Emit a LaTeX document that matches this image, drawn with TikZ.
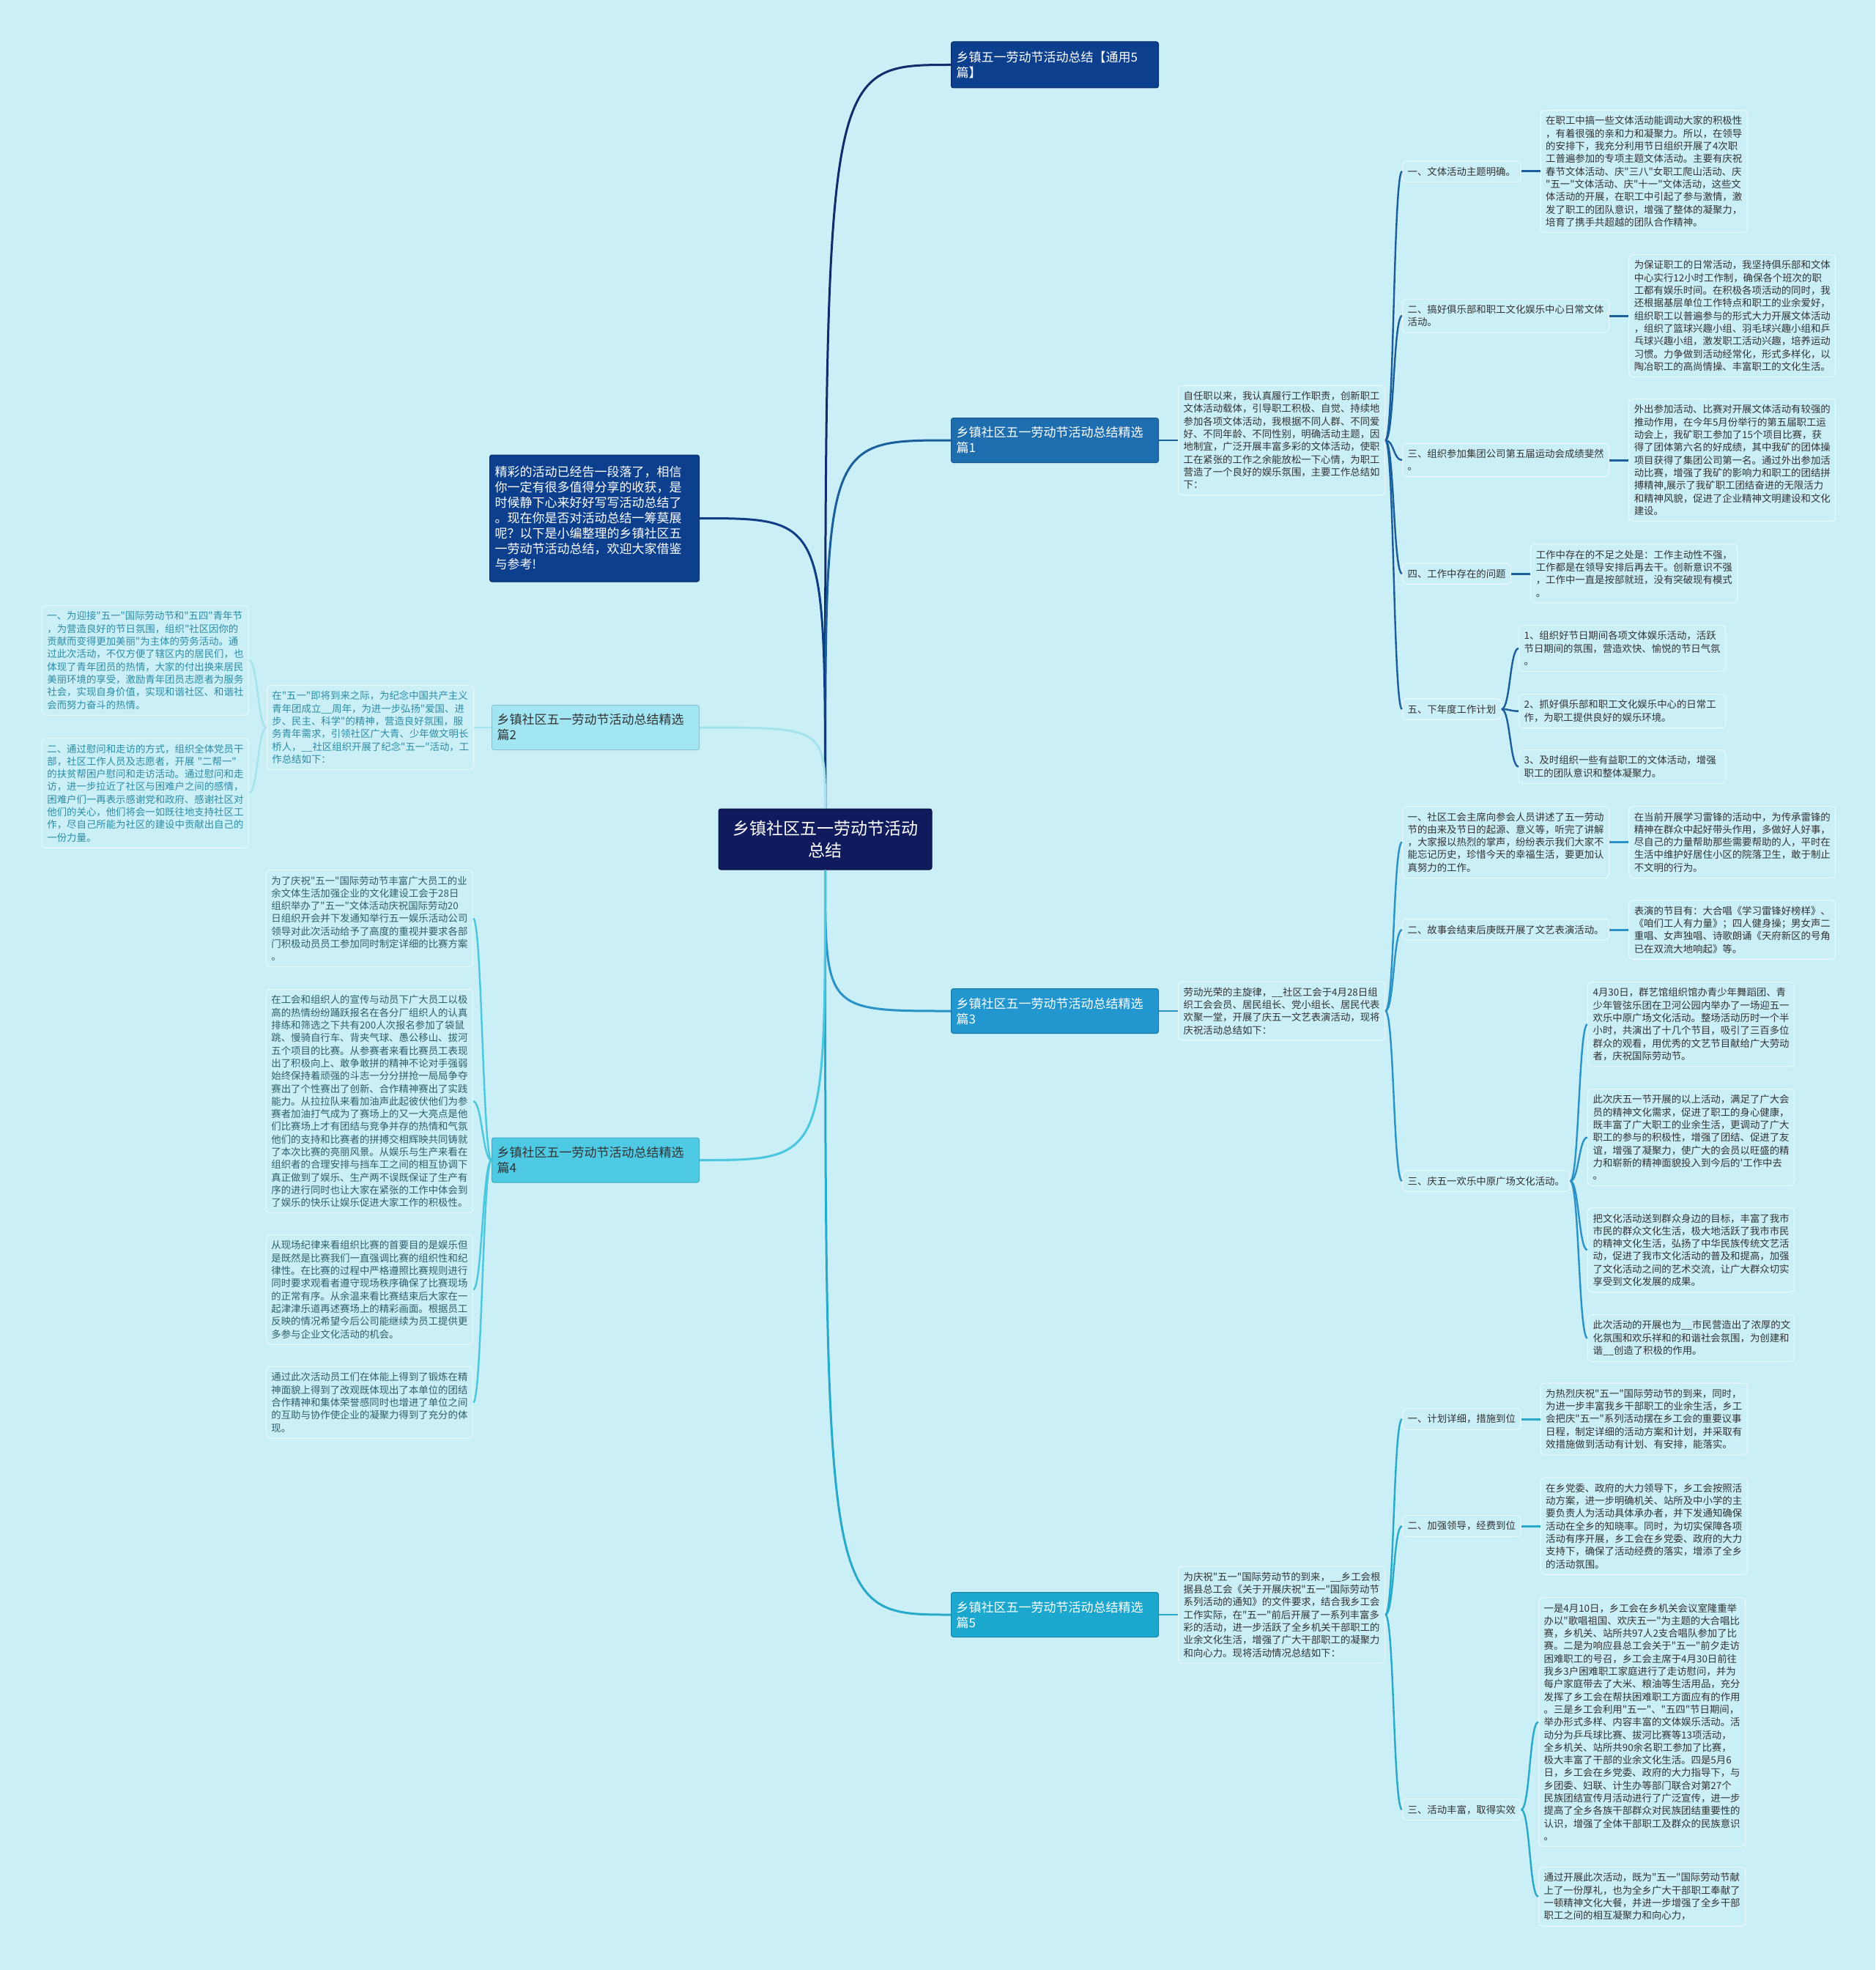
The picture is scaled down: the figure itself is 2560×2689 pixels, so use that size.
\documentclass[tikz,border=0pt]{standalone}
\usepackage{fontspec}
\newfontfamily\cjk{Noto Sans CJK SC}
\usetikzlibrary{positioning, calc}

\definecolor{bgcol}{HTML}{CAEFF7}
\definecolor{navy}{HTML}{101B5E}
\definecolor{deepblue}{HTML}{0C3F8D}
\definecolor{blueA}{HTML}{1E6EAF}
\definecolor{blueB}{HTML}{2196CF}
\definecolor{blueC}{HTML}{1CA7CF}
\definecolor{cyanA}{HTML}{A2E6F3}
\definecolor{cyanB}{HTML}{4FCAE4}
\definecolor{lineTop}{HTML}{0F2C6B}
\definecolor{lineIntro}{HTML}{103E86}
\definecolor{lineA}{HTML}{1A5E9B}
\definecolor{lineB}{HTML}{2A92C6}
\definecolor{lineC}{HTML}{27A9C9}
\definecolor{lineD}{HTML}{A2E3EE}
\definecolor{lineE}{HTML}{4AC7DF}
\definecolor{leafedge}{HTML}{E8F9FD}
\definecolor{leaftext}{HTML}{333333}
\definecolor{tealtext}{HTML}{2C8CA5}
\definecolor{slatetext}{HTML}{2E5F6A}

\tikzstyle{root} = [rectangle, rounded corners=3pt, fill=navy, draw=navy!70!black, line width=1pt, text=white, align=center, minimum width=291pt, minimum height=83pt, inner sep=4pt, font={\cjk\fontsize{23}{30}\selectfont}]
\tikzstyle{branch} = [rectangle, rounded corners=3pt, line width=1pt, text width=269pt, align=left, inner xsep=7pt, inner ysep=4pt, minimum height=61pt, font={\cjk\fontsize{17}{21}\selectfont}]
\tikzstyle{leaf} = [rectangle, rounded corners=5pt, fill=bgcol, draw=leafedge, line width=1.2pt, text=leaftext, align=left, inner xsep=7pt, inner ysep=8pt, font={\cjk\fontsize{13.4}{17.3}\selectfont}]
\tikzstyle{para} = [leaf, text width=268pt]
\tikzstyle{trunk} = [line width=3pt]
\tikzstyle{twig} = [line width=2.4pt]

\begin{document}
\begin{tikzpicture}[x=1pt, y=-1pt]

        \fill[bgcol] (0,0) rectangle (2560,2689);

        % Centre
        \node (ctr) [root] at (1126.5,1145.5) {乡镇社区五一劳动节活动\\总结};

        % Main topics (Right)
        \node (top) [branch, fill=deepblue, draw=deepblue!70!black, text=white, minimum height=63pt, anchor=west] at (1298,88.5) {乡镇五一劳动节活动总结【通用5\\篇】};
        \node (b1) [branch, fill=blueA, draw=blueA!80!black, text=white, anchor=west] at (1298,601) {乡镇社区五一劳动节活动总结精选\\篇1};
        \node (b3) [branch, fill=blueB, draw=blueB!80!black, text=white, anchor=west] at (1298,1380) {乡镇社区五一劳动节活动总结精选\\篇3};
        \node (b5) [branch, fill=blueC, draw=blueC!80!black, text=white, anchor=west] at (1298,2204) {乡镇社区五一劳动节活动总结精选\\篇5};

        % Main topics (Left)
        \node (intro) [branch, fill=deepblue, draw=deepblue!70!black, text=white, text width=272pt, minimum height=173pt, anchor=east] at (955,707.5) {精彩的活动已经告一段落了，相信\\你一定有很多值得分享的收获，是\\时候静下心来好好写写活动总结了\\。现在你是否对活动总结一筹莫展\\呢？以下是小编整理的乡镇社区五\\一劳动节活动总结，欢迎大家借鉴\\与参考!};
        \node (b2) [branch, fill=cyanA, draw=cyanA!85!black, text=leaftext, anchor=east] at (955,993) {乡镇社区五一劳动节活动总结精选\\篇2};
        \node (b4) [branch, fill=cyanB, draw=cyanB!85!black, text=leaftext, anchor=east] at (955,1583.5) {乡镇社区五一劳动节活动总结精选\\篇4};

        % Part 1
        \node (p1) [para, right=26pt of b1] {自任职以来，我认真履行工作职责，创新职工\\文体活动载体，引导职工积极、自觉、持续地\\参加各项文体活动，我根据不同人群、不同爱\\好、不同年龄、不同性别，明确活动主题，因\\地制宜，广泛开展丰富多彩的文体活动，使职\\工在紧张的工作之余能放松一下心情，为职工\\营造了一个良好的娱乐氛围，主要工作总结如\\下：};
        \node (l11) [leaf, anchor=west] at (1914,234) {一、文体活动主题明确。};
        \node (l12) [leaf, anchor=west] at (1914,431) {二、搞好俱乐部和职工文化娱乐中心日常文体\\活动。};
        \node (l13) [leaf, anchor=west] at (1914,628) {三、组织参加集团公司第五届运动会成绩斐然\\。};
        \node (l14) [leaf, anchor=west] at (1914,783) {四、工作中存在的问题};
        \node (l15) [leaf, anchor=west] at (1914,968) {五、下年度工作计划};
        \node (d11) [para, right=26pt of l11] {在职工中搞一些文体活动能调动大家的积极性\\，有着很强的亲和力和凝聚力。所以，在领导\\的安排下，我充分利用节日组织开展了4次职\\工普遍参加的专项主题文体活动。主要有庆祝\\春节文体活动、庆"三八"女职工爬山活动、庆\\"五一"文体活动、庆"十一"文体活动，这些文\\体活动的开展，在职工中引起了参与激情，激\\发了职工的团队意识，增强了整体的凝聚力，\\培育了携手共超越的团队合作精神。};
        \node (d12) [para, right=26pt of l12] {为保证职工的日常活动，我坚持俱乐部和文体\\中心实行12小时工作制，确保各个班次的职\\工都有娱乐时间。在积极各项活动的同时，我\\还根据基层单位工作特点和职工的业余爱好，\\组织职工以普遍参与的形式大力开展文体活动\\，组织了篮球兴趣小组、羽毛球兴趣小组和乒\\乓球兴趣小组，激发职工活动兴趣，培养运动\\习惯。力争做到活动经常化，形式多样化，以\\陶冶职工的高尚情操、丰富职工的文化生活。};
        \node (d13) [para, right=26pt of l13] {外出参加活动、比赛对开展文体活动有较强的\\推动作用，在今年5月份举行的第五届职工运\\动会上，我矿职工参加了15个项目比赛，获\\得了团体第六名的好成绩，其中我矿的团体操\\项目获得了集团公司第一名。通过外出参加活\\动比赛，增强了我矿的影响力和职工的团结拼\\搏精神,展示了我矿职工团结奋进的无限活力\\和精神风貌，促进了企业精神文明建设和文化\\建设。};
        \node (d14) [para, right=26pt of l14] {工作中存在的不足之处是：工作主动性不强，\\工作都是在领导安排后再去干。创新意识不强\\，工作中一直是按部就班，没有突破现有模式\\。};
        \node (d15a) [para, anchor=north west] at (2073,853) {1、组织好节日期间各项文体娱乐活动，活跃\\节日期间的氛围，营造欢快、愉悦的节日气氛\\。};
        \node (d15b) [para, anchor=north west] at (2073,947) {2、抓好俱乐部和职工文化娱乐中心的日常工\\作，为职工提供良好的娱乐环境。};
        \node (d15c) [para, anchor=north west] at (2073,1023) {3、及时组织一些有益职工的文体活动，增强\\职工的团队意识和整体凝聚力。};

        % Part 3
        \node (p3) [para, right=26pt of b3] {劳动光荣的主旋律，\_\_社区工会于4月28日组\\织工会会员、居民组长、党小组长、居民代表\\欢聚一堂，开展了庆五一文艺表演活动，现将\\庆祝活动总结如下：};
        \node (l31) [leaf, anchor=west] at (1914,1149.5) {一、社区工会主席向参会人员讲述了五一劳动\\节的由来及节日的起源、意义等，听完了讲解\\，大家报以热烈的掌声，纷纷表示我们大家不\\能忘记历史，珍惜今天的幸福生活，要更加认\\真努力的工作。};
        \node (l32) [leaf, anchor=west] at (1914,1269) {二、故事会结束后庚既开展了文艺表演活动。};
        \node (l33) [leaf, anchor=west] at (1914,1612) {三、庆五一欢乐中原广场文化活动。};
        \node (d31) [para, right=26pt of l31] {在当前开展学习雷锋的活动中，为传承雷锋的\\精神在群众中起好带头作用，多做好人好事，\\尽自己的力量帮助那些需要帮助的人，平时在\\生活中维护好居住小区的院落卫生，敢于制止\\不文明的行为。};
        \node (d32) [para, right=26pt of l32] {表演的节目有：大合唱《学习雷锋好榜样》、\\《咱们工人有力量》；四人健身操；男女声二\\重唱、女声独唱、诗歌朗诵《天府新区的号角\\已在双流大地响起》等。};
        \node (d33a) [para, anchor=north west] at (2167,1340) {4月30日，群艺馆组织馆办青少年舞蹈团、青\\少年管弦乐团在卫河公园内举办了一场迎五一\\欢乐中原广场文化活动。整场活动历时一个半\\小时，共演出了十几个节目，吸引了三百多位\\群众的观看，用优秀的文艺节目献给广大劳动\\者，庆祝国际劳动节。};
        \node (d33b) [para, anchor=north west] at (2167,1486) {此次庆五一节开展的以上活动，满足了广大会\\员的精神文化需求，促进了职工的身心健康，\\既丰富了广大职工的业余生活，更调动了广大\\职工的参与的积极性，增强了团结、促进了友\\谊，增强了凝聚力，使广大的会员以旺盛的精\\力和崭新的精神面貌投入到今后的'工作中去\\。};
        \node (d33c) [para, anchor=north west] at (2167,1648) {把文化活动送到群众身边的目标，丰富了我市\\市民的群众文化生活，极大地活跃了我市市民\\的精神文化生活，弘扬了中华民族传统文艺活\\动，促进了我市文化活动的普及和提高，加强\\了文化活动之间的艺术交流，让广大群众切实\\享受到文化发展的成果。};
        \node (d33d) [para, anchor=north west] at (2167,1794) {此次活动的开展也为\_\_市民营造出了浓厚的文\\化氛围和欢乐祥和的和谐社会氛围，为创建和\\谐\_\_创造了积极的作用。};

        % Part 5
        \node (p5) [para, right=26pt of b5] {为庆祝"五一"国际劳动节的到来，\_\_乡工会根\\据县总工会《关于开展庆祝"五一"国际劳动节\\系列活动的通知》的文件要求，结合我乡工会\\工作实际，在"五一"前后开展了一系列丰富多\\彩的活动，进一步活跃了全乡机关干部职工的\\业余文化生活，增强了广大干部职工的凝聚力\\和向心力。现将活动情况总结如下：};
        \node (l51) [leaf, anchor=west] at (1914,1937) {一、计划详细，措施到位};
        \node (l52) [leaf, anchor=west] at (1914,2083) {二、加强领导，经费到位};
        \node (l53) [leaf, anchor=west] at (1914,2470) {三、活动丰富，取得实效};
        \node (d51) [para, right=26pt of l51] {为热烈庆祝"五一"国际劳动节的到来，同时，\\为进一步丰富我乡干部职工的业余生活，乡工\\会把庆"五一"系列活动摆在乡工会的重要议事\\日程，制定详细的活动方案和计划，并采取有\\效措施做到活动有计划、有安排，能落实。};
        \node (d52) [para, right=26pt of l52] {在乡党委、政府的大力领导下，乡工会按照活\\动方案，进一步明确机关、站所及中小学的主\\要负责人为活动具体承办者，并下发通知确保\\活动在全乡的知晓率。同时，为切实保障各项\\活动有序开展，乡工会在乡党委、政府的大力\\支持下，确保了活动经费的落实，增添了全乡\\的活动氛围。};
        \node (d53a) [para, anchor=north west] at (2100,2180) {一是4月10日，乡工会在乡机关会议室隆重举\\办以"歌唱祖国、欢庆五一"为主题的大合唱比\\赛，乡机关、站所共97人2支合唱队参加了比\\赛。二是为响应县总工会关于"五一"前夕走访\\困难职工的号召，乡工会主席于4月30日前往\\我乡3户困难职工家庭进行了走访慰问，并为\\每户家庭带去了大米、粮油等生活用品，充分\\发挥了乡工会在帮扶困难职工方面应有的作用\\。三是乡工会利用"五一"、"五四"节日期间，\\举办形式多样、内容丰富的文体娱乐活动。活\\动分为乒乓球比赛、拔河比赛等13项活动，\\全乡机关、站所共90余名职工参加了比赛，\\极大丰富了干部的业余文化生活。四是5月6\\日，乡工会在乡党委、政府的大力指导下，与\\乡团委、妇联、计生办等部门联合对第27个\\民族团结宣传月活动进行了广泛宣传，进一步\\提高了全乡各族干部群众对民族团结重要性的\\认识，增强了全体干部职工及群众的民族意识\\。};
        \node (d53b) [para, anchor=north west] at (2100,2548) {通过开展此次活动，既为"五一"国际劳动节献\\上了一份厚礼，也为全乡广大干部职工奉献了\\一顿精神文化大餐，并进一步增强了全乡干部\\职工之间的相互凝聚力和向心力，};

        % Part 2 (Left)
        \node (p2) [para, text=tealtext, left=24pt of b2] {在"五一"即将到来之际，为纪念中国共产主义\\青年团成立\_\_周年，为进一步弘扬"爱国、进\\步、民主、科学"的精神，营造良好氛围，服\\务青年需求，引领社区广大青、少年做文明长\\桥人，\_\_社区组织开展了纪念"五一"活动，工\\作总结如下：};
        \node (d21) [para, text=tealtext, anchor=north east] at (340,826) {一、为迎接"五一"国际劳动节和"五四"青年节\\，为营造良好的节日氛围，组织"社区因你的\\贡献而变得更加美丽"为主体的劳务活动。通\\过此次活动，不仅方便了辖区内的居民们，也\\体现了青年团员的热情，大家的付出换来居民\\美丽环境的享受，激励青年团员志愿者为服务\\社会，实现自身价值，实现和谐社区、和谐社\\会而努力奋斗的热情。};
        \node (d22) [para, text=tealtext, anchor=north east] at (340,1007) {二、通过慰问和走访的方式，组织全体党员干\\部，社区工作人员及志愿者，开展 "二帮一"\\的扶贫帮困户慰问和走访活动。通过慰问和走\\访，进一步拉近了社区与困难户之间的感情，\\困难户们一再表示感谢党和政府、感谢社区对\\他们的关心，他们将会一如既往地支持社区工\\作，尽自己所能为社区的建设中贡献出自己的\\一份力量。};

        % Part 4 (Left)
        \node (d41) [para, text=slatetext, anchor=north east] at (646,1187) {为了庆祝"五一"国际劳动节丰富广大员工的业\\余文体生活加强企业的文化建设工会于28日\\组织举办了"五一"文体活动庆祝国际劳动20\\日组织开会并下发通知举行五一娱乐活动公司\\领导对此次活动给予了高度的重视并要求各部\\门积极动员员工参加同时制定详细的比赛方案\\。};
        \node (d42) [para, text=slatetext, anchor=north east] at (646,1350) {在工会和组织人的宣传与动员下广大员工以极\\高的热情纷纷踊跃报名在各分厂组织人的认真\\排练和筛选之下共有200人次报名参加了袋鼠\\跳、慢骑自行车、背夹气球、愚公移山、拔河\\五个项目的比赛。从参赛者来看比赛员工表现\\出了积极向上、敢争敢拼的精神不论对手强弱\\始终保持着顽强的斗志一分分拼抢一局局争夺\\赛出了个性赛出了创新、合作精神赛出了实践\\能力。从拉拉队来看加油声此起彼伏他们为参\\赛者加油打气成为了赛场上的又一大亮点是他\\们比赛场上才有团结与竞争并存的热情和气氛\\他们的支持和比赛者的拼搏交相辉映共同铸就\\了本次比赛的亮丽风景。从娱乐与生产来看在\\组织者的合理安排与挡车工之间的相互协调下\\真正做到了娱乐、生产两不误既保证了生产有\\序的进行同时也让大家在紧张的工作中体会到\\了娱乐的快乐让娱乐促进大家工作的积极性。};
        \node (d43) [para, text=slatetext, anchor=north east] at (646,1685) {从现场纪律来看组织比赛的首要目的是娱乐但\\是既然是比赛我们一直强调比赛的组织性和纪\\律性。在比赛的过程中严格遵照比赛规则进行\\同时要求观看者遵守现场秩序确保了比赛现场\\的正常有序。从余温来看比赛结束后大家在一\\起津津乐道再述赛场上的精彩画面。根据员工\\反映的情况希望今后公司能继续为员工提供更\\多参与企业文化活动的机会。};
        \node (d44) [para, text=slatetext, anchor=north east] at (646,1865) {通过此次活动员工们在体能上得到了锻炼在精\\神面貌上得到了改观既体现出了本单位的团结\\合作精神和集体荣誉感同时也增进了单位之间\\的互助与协作使企业的凝聚力得到了充分的体\\现。};

        % Trunks
        \draw [trunk, lineTop] (ctr.north) .. controls (ctr.north |- top.west) .. (top.west);
        \draw [trunk, lineA] (ctr.north) .. controls (ctr.north |- b1.west) .. (b1.west);
        \draw [trunk, lineB] (ctr.south) .. controls (ctr.south |- b3.west) .. (b3.west);
        \draw [trunk, lineC] (ctr.south) .. controls (ctr.south |- b5.west) .. (b5.west);
        \draw [trunk, lineIntro] (ctr.north) .. controls (ctr.north |- intro.east) .. (intro.east);
        \draw [trunk, lineD] (ctr.north) .. controls (ctr.north |- b2.east) .. (b2.east);
        \draw [trunk, lineE] (ctr.south) .. controls (ctr.south |- b4.east) .. (b4.east);

        % Twigs, part 1
        \draw [twig, lineA] (b1) -- (p1);
        \draw [twig, lineA] (p1.east) .. controls +(12,0) and +(-12,0) .. (l11.west);
        \draw [twig, lineA] (p1.east) .. controls +(12,0) and +(-12,0) .. (l12.west);
        \draw [twig, lineA] (p1.east) .. controls +(12,0) and +(-12,0) .. (l13.west);
        \draw [twig, lineA] (p1.east) .. controls +(12,0) and +(-12,0) .. (l14.west);
        \draw [twig, lineA] (p1.east) .. controls +(12,0) and +(-12,0) .. (l15.west);
        \draw [trunk, lineA] (l11) -- (d11);
        \draw [trunk, lineA] (l12) -- (d12);
        \draw [trunk, lineA] (l13) -- (d13);
        \draw [trunk, lineA] (l14) -- (d14);
        \draw [twig, lineA] (l15.east) .. controls +(12,0) and +(-12,0) .. (d15a.west);
        \draw [twig, lineA] (l15.east) .. controls +(12,0) and +(-12,0) .. (d15b.west);
        \draw [twig, lineA] (l15.east) .. controls +(12,0) and +(-12,0) .. (d15c.west);

        % Twigs, part 3
        \draw [twig, lineB] (b3) -- (p3);
        \draw [twig, lineB] (p3.east) .. controls +(12,0) and +(-12,0) .. (l31.west);
        \draw [twig, lineB] (p3.east) .. controls +(12,0) and +(-12,0) .. (l32.west);
        \draw [twig, lineB] (p3.east) .. controls +(12,0) and +(-12,0) .. (l33.west);
        \draw [trunk, lineB] (l31) -- (d31);
        \draw [trunk, lineB] (l32) -- (d32);
        \draw [twig, lineB] (l33.east) .. controls +(12,0) and +(-12,0) .. (d33a.west);
        \draw [twig, lineB] (l33.east) .. controls +(12,0) and +(-12,0) .. (d33b.west);
        \draw [twig, lineB] (l33.east) .. controls +(12,0) and +(-12,0) .. (d33c.west);
        \draw [twig, lineB] (l33.east) .. controls +(12,0) and +(-12,0) .. (d33d.west);

        % Twigs, part 5
        \draw [twig, lineC] (b5) -- (p5);
        \draw [twig, lineC] (p5.east) .. controls +(12,0) and +(-12,0) .. (l51.west);
        \draw [twig, lineC] (p5.east) .. controls +(12,0) and +(-12,0) .. (l52.west);
        \draw [twig, lineC] (p5.east) .. controls +(12,0) and +(-12,0) .. (l53.west);
        \draw [trunk, lineC] (l51) -- (d51);
        \draw [trunk, lineC] (l52) -- (d52);
        \draw [twig, lineC] (l53.east) .. controls +(12,0) and +(-12,0) .. (d53a.west);
        \draw [twig, lineC] (l53.east) .. controls +(12,0) and +(-12,0) .. (d53b.west);

        % Twigs, part 2 and 4
        \draw [twig, lineD] (b2) -- (p2);
        \draw [twig, lineD] (p2.west) .. controls +(-12,0) and +(12,0) .. (d21.east);
        \draw [twig, lineD] (p2.west) .. controls +(-12,0) and +(12,0) .. (d22.east);
        \draw [twig, lineE] (b4.west) .. controls +(-12,0) and +(12,0) .. (d41.east);
        \draw [twig, lineE] (b4.west) .. controls +(-12,0) and +(12,0) .. (d42.east);
        \draw [twig, lineE] (b4.west) .. controls +(-12,0) and +(12,0) .. (d43.east);
        \draw [twig, lineE] (b4.west) .. controls +(-12,0) and +(12,0) .. (d44.east);

\end{tikzpicture}
\end{document}
